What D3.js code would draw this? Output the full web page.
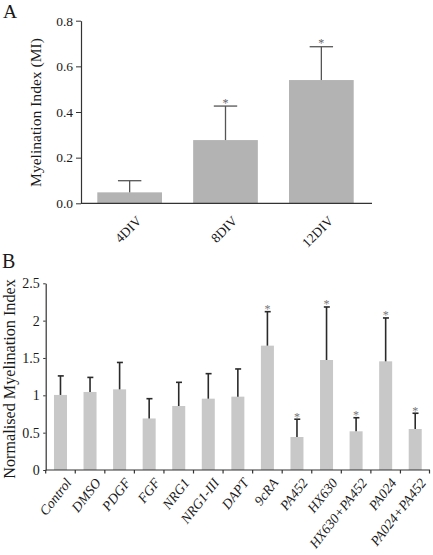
<!DOCTYPE html>
<html><head><meta charset="utf-8">
<script src="https://cdn.jsdelivr.net/npm/d3@7"></script>
<style>
body{margin:0;background:#fff;}
svg{display:block;font-family:"Liberation Serif","Times New Roman",serif;}
</style></head>
<body>
<svg id="c" width="433" height="555"></svg>
<script>
// Panel A data
const catsA = ["4DIV", "8DIV", "12DIV"];
const valsA = [0.048, 0.277, 0.540];
const errA  = [0.099, 0.426, 0.686];
const sigA  = [false, true, true];
const ticksA = [0, 0.2, 0.4, 0.6, 0.8];

// Panel B data
const catsB = ["Control","DMSO","PDGF","FGF","NRG1","NRG1-III","DAPT","9cRA","PA452","HX630","HX630+PA452","PA024","PA024+PA452"];
const valsB = [1.005, 1.045, 1.08, 0.69, 0.857, 0.955, 0.982, 1.665, 0.442, 1.473, 0.518, 1.455, 0.549];
const errB  = [1.26, 1.24, 1.44, 0.955, 1.174, 1.29, 1.353, 2.12, 0.68, 2.183, 0.70, 2.036, 0.76];
const sigB  = [false,false,false,false,false,false,false,true,true,true,true,true,true];
const ticksB = [0, 0.5, 1, 1.5, 2, 2.5];

const svg = d3.select("#c");
const axisCol = "#333";
const textCol = "#1a1a1a";

// ---------- Panel A ----------
{
  const g = svg.append("g");
  const x = d3.scaleBand().domain(catsA).range([81, 370]).paddingInner(0.325).paddingOuter(0.17);
  const y = d3.scaleLinear().domain([0, 0.8]).range([203.3, 20.7]);
  g.selectAll("rect.bar").data(catsA).join("rect")
    .attr("x", d => x(d)).attr("width", x.bandwidth())
    .attr("y", (d,i) => y(valsA[i])).attr("height", (d,i) => y(0) - y(valsA[i]))
    .attr("fill", "#b3b3b3");
  g.selectAll("line.err").data(catsA).join("line")
    .attr("x1", d => x(d) + x.bandwidth()/2).attr("x2", d => x(d) + x.bandwidth()/2)
    .attr("y1", (d,i) => y(valsA[i])).attr("y2", (d,i) => y(errA[i]))
    .attr("stroke", "#555").attr("stroke-width", 1.3);
  g.selectAll("line.cap").data(catsA).join("line")
    .attr("x1", d => x(d) + x.bandwidth()/2 - 11.7).attr("x2", d => x(d) + x.bandwidth()/2 + 11.7)
    .attr("y1", (d,i) => y(errA[i])).attr("y2", (d,i) => y(errA[i]))
    .attr("stroke", "#555").attr("stroke-width", 1.3);
  g.selectAll("text.star").data(catsA.filter((d,i)=>sigA[i])).join("text")
    .attr("x", d => x(d) + x.bandwidth()/2)
    .attr("y", d => y(errA[catsA.indexOf(d)]) + 0.5)
    .attr("text-anchor", "middle").attr("font-size", 12).attr("fill", "#666").text("*");
  const ya = g.append("g").attr("transform", "translate(81,0)")
    .call(d3.axisLeft(y).tickValues(ticksA).tickFormat(d3.format(".1f")).tickSize(5).tickSizeOuter(0));
  ya.select(".domain").attr("stroke", axisCol).attr("stroke-width", 1.2);
  ya.selectAll(".tick line").attr("stroke", axisCol);
  ya.selectAll("text").attr("font-family", "Liberation Serif").attr("font-size", 13.5).attr("fill", textCol);
  g.append("line").attr("x1", 81).attr("x2", 372).attr("y1", 203.3).attr("y2", 203.3)
    .attr("stroke", axisCol).attr("stroke-width", 1.2);
  g.selectAll("text.xl").data(catsA).join("text")
    .attr("transform", d => `translate(${x(d) + x.bandwidth()/2 + 6},${215}) rotate(-45)`)
    .attr("text-anchor", "end").attr("dy", "0.7em")
    .attr("font-size", 13.5).attr("fill", textCol).text(d => d);
  g.append("text").attr("transform", "translate(41,112.5) rotate(-90)")
    .attr("text-anchor", "middle").attr("font-size", 15.6).attr("fill", textCol)
    .text("Myelination Index (MI)");
  g.append("text").attr("x", 3).attr("y", 18).attr("font-size", 19.5).attr("fill", textCol).text("A");
}

// ---------- Panel B ----------
{
  const g = svg.append("g");
  const x = d3.scaleBand().domain(catsB).range([45.7, 430]).paddingInner(0.56).paddingOuter(0.28);
  const y = d3.scaleLinear().domain([0, 2.5]).range([470, 283.3]);
  g.selectAll("rect.bar").data(catsB).join("rect")
    .attr("x", d => x(d)).attr("width", x.bandwidth())
    .attr("y", (d,i) => y(valsB[i])).attr("height", (d,i) => y(0) - y(valsB[i]))
    .attr("fill", "#c8c8c8");
  g.selectAll("line.err").data(catsB).join("line")
    .attr("x1", d => x(d) + x.bandwidth()/2).attr("x2", d => x(d) + x.bandwidth()/2)
    .attr("y1", (d,i) => y(valsB[i])).attr("y2", (d,i) => y(errB[i]))
    .attr("stroke", "#2a2a2a").attr("stroke-width", 1.6);
  g.selectAll("line.cap").data(catsB).join("line")
    .attr("x1", d => x(d) + x.bandwidth()/2 - 2.7).attr("x2", d => x(d) + x.bandwidth()/2 + 3.3)
    .attr("y1", (d,i) => y(errB[i])).attr("y2", (d,i) => y(errB[i]))
    .attr("stroke", "#2a2a2a").attr("stroke-width", 1.6);
  g.selectAll("text.star").data(catsB.filter((d,i)=>sigB[i])).join("text")
    .attr("x", d => x(d) + x.bandwidth()/2)
    .attr("y", d => y(errB[catsB.indexOf(d)]) + 1.5)
    .attr("text-anchor", "middle").attr("font-size", 12).attr("fill", "#777").text("*");
  const ya = g.append("g").attr("transform", "translate(45.7,0)")
    .call(d3.axisLeft(y).tickValues(ticksB).tickFormat(d => d).tickSize(2.5).tickSizeOuter(0));
  ya.select(".domain").attr("stroke", axisCol).attr("stroke-width", 1.2);
  ya.selectAll(".tick line").attr("stroke", axisCol);
  ya.selectAll("text").attr("font-family", "Liberation Serif").attr("font-size", 14).attr("fill", textCol).attr("x", -6);
  g.append("line").attr("x1", 45.7).attr("x2", 430).attr("y1", 470).attr("y2", 470)
    .attr("stroke", axisCol).attr("stroke-width", 1.2);
  const halfGap = x.step() * x.paddingInner() / 2;
  g.selectAll("line.xt").data(catsB).join("line")
    .attr("x1", d => x(d) - halfGap).attr("x2", d => x(d) - halfGap)
    .attr("y1", 470).attr("y2", 473.5).attr("stroke", axisCol).attr("stroke-width", 1.2);
  g.append("line").attr("x1", 429.5).attr("x2", 429.5).attr("y1", 470).attr("y2", 473.5)
    .attr("stroke", axisCol).attr("stroke-width", 1.2);
  g.selectAll("text.xl").data(catsB).join("text")
    .attr("transform", d => `translate(${x(d) + x.bandwidth()/2 + 4},${477}) rotate(-52)`)
    .attr("text-anchor", "end").attr("dy", "0.7em").attr("font-style", "italic")
    .attr("font-size", 13.8).attr("fill", textCol).text(d => d);
  g.append("text").attr("transform", "translate(14.5,379) rotate(-90)")
    .attr("text-anchor", "middle").attr("font-size", 16.2).attr("fill", textCol)
    .text("Normalised Myelination Index");
  g.append("text").attr("x", 2).attr("y", 268).attr("font-size", 20).attr("fill", textCol).text("B");
}
</script>
</body></html>
